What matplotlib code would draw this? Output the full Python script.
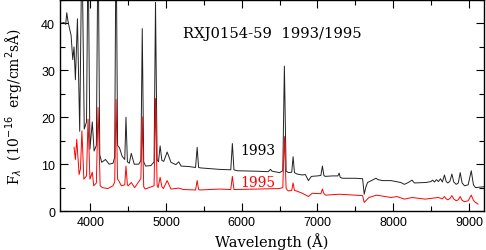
import matplotlib
matplotlib.use('Agg')
import matplotlib.pyplot as plt
from matplotlib.ticker import MultipleLocator


# 1993 spectrum (wavelength in A, flux in 1e-16 erg/cm2/s/A)
WAVE_93 = [3600, 3653, 3675, 3689, 3705, 3719, 3746, 3768, 3785, 3803, 3830, 3860,
           3889, 3920, 3950, 3970, 3995, 4026, 4050, 4080, 4102, 4125, 4150, 4200,
           4250, 4300, 4322, 4340, 4360, 4385, 4420, 4455, 4471, 4490, 4515, 4541,
           4580, 4640, 4668, 4686, 4705, 4730, 4800, 4842, 4861, 4882, 4900, 4922,
           4945, 4970, 5015, 5065, 5130, 5167, 5200, 5300, 5390, 5411, 5430, 5460,
           5700, 5855, 5876, 5897, 5940, 6200, 6350, 6380, 6400, 6500, 6542, 6563,
           6586, 6620, 6660, 6678, 6696, 6730, 6800, 6840, 6880, 6920, 7000, 7045,
           7065, 7085, 7100, 7200, 7270, 7286, 7300, 7330, 7500, 7596, 7617, 7640,
           7662, 7700, 7772, 7800, 7861, 7971, 8100, 8147, 8200, 8249, 8280, 8434,
           8500, 8520, 8545, 8570, 8598, 8625, 8650, 8677, 8700, 8722, 8750, 8775,
           8800, 8832, 8860, 8885, 8910, 8942, 8990, 9031, 9060, 9087, 9150, 9200]
FLUX_93 = [40.0, 40.2, 39.8, 42.3, 40.5, 39.4, 37.5, 32.3, 35.0, 28.0, 41.0, 17.0,
           58.0, 17.5, 19.0, 58.0, 13.2, 19.0, 12.8, 14.0, 60.0, 12.0, 10.4, 11.0,
           10.0, 10.2, 11.5, 62.0, 14.0, 13.5, 11.7, 11.0, 20.0, 10.5, 10.2, 12.3,
           10.0, 10.0, 10.8, 38.9, 10.5, 9.6, 9.7, 10.5, 44.5, 11.0, 10.5, 13.9,
           10.8, 10.6, 12.6, 10.4, 9.9, 10.5, 9.6, 9.5, 9.3, 13.6, 9.3, 9.2,
           8.9, 8.8, 14.4, 8.8, 8.6, 8.5, 8.4, 8.9, 8.5, 8.2, 8.6, 30.9,
           8.5, 8.2, 8.3, 11.6, 8.2, 7.9, 7.7, 7.8, 6.5, 7.4, 7.5, 7.6,
           9.6, 7.6, 7.4, 7.5, 7.5, 8.1, 7.2, 7.0, 7.0, 6.9, 3.6, 5.2,
           6.1, 6.4, 7.0, 6.7, 6.5, 6.5, 6.1, 5.7, 6.1, 6.6, 6.0, 6.1,
           6.3, 6.6, 6.2, 6.7, 6.3, 6.9, 6.2, 7.7, 6.3, 6.0, 6.4, 7.9,
           6.2, 5.7, 6.0, 8.2, 6.0, 5.4, 5.6, 8.6, 5.6, 5.0, 5.1, 5.2]

# 1995 spectrum
WAVE_95 = [3785, 3803, 3821, 3852, 3870, 3889, 3915, 3950, 3970, 3995, 4026, 4045,
           4080, 4102, 4130, 4160, 4230, 4300, 4322, 4340, 4360, 4375, 4410, 4455,
           4471, 4490, 4500, 4541, 4585, 4650, 4668, 4686, 4705, 4725, 4842, 4861,
           4882, 4895, 4922, 4945, 4965, 5015, 5065, 5167, 5230, 5390, 5411, 5430,
           5450, 5700, 5855, 5876, 5897, 5920, 6490, 6542, 6563, 6586, 6615, 6660,
           6678, 6696, 6720, 6800, 6880, 6930, 7045, 7065, 7085, 7110, 7286, 7596,
           7617, 7680, 7780, 7971, 8050, 8147, 8250, 8420, 8545, 8598, 8650, 8677,
           8700, 8722, 8750, 8775, 8800, 8832, 8860, 8885, 8910, 8942, 8990, 9031,
           9060, 9087, 9120]
FLUX_95 = [13.6, 11.0, 15.3, 7.8, 9.0, 17.1, 6.8, 7.5, 19.6, 6.8, 8.3, 5.4,
           6.0, 22.1, 5.4, 5.0, 4.8, 5.4, 6.2, 23.8, 6.8, 6.5, 5.4, 5.6,
           9.6, 5.6, 5.4, 6.1, 5.0, 6.5, 7.0, 20.1, 5.2, 4.7, 5.4, 24.0,
           5.5, 5.0, 7.2, 5.2, 4.8, 6.5, 4.7, 4.9, 4.6, 4.5, 6.5, 4.6,
           4.5, 4.7, 4.6, 7.4, 4.6, 4.6, 4.8, 5.0, 15.9, 4.8, 4.3, 4.4,
           6.0, 4.4, 4.3, 3.8, 3.1, 3.8, 3.7, 4.7, 3.7, 3.4, 3.6, 3.3,
           1.85, 2.9, 3.4, 2.9, 3.1, 2.55, 2.9, 2.55, 2.8, 2.9, 2.6, 3.1,
           2.6, 2.4, 2.7, 3.3, 2.6, 2.2, 2.4, 3.1, 2.3, 2.0, 2.2, 3.4,
           2.3, 1.85, 1.5]

TITLE = 'RXJ0154-59  1993/1995'
LABEL_93 = '1993'
LABEL_95 = '1995'

serif = 'DejaVu Serif'

fig = plt.figure(figsize=(4.86, 2.51), dpi=100)
ax = fig.add_axes([0.1235, 0.155, 0.8725, 0.841])

ax.plot(WAVE_93, FLUX_93, color='#222222', lw=0.7)
ax.plot(WAVE_95, FLUX_95, color='red', lw=0.7)

ax.set_xlim(3600, 9200)
ax.set_ylim(0, 45)
ax.xaxis.set_major_locator(MultipleLocator(1000))
ax.xaxis.set_minor_locator(MultipleLocator(500))
ax.yaxis.set_major_locator(MultipleLocator(10))
ax.yaxis.set_minor_locator(MultipleLocator(5))
ax.tick_params(which='both', direction='in', top=True, right=True, labelsize=9)
ax.tick_params(which='major', length=6, width=0.8)
ax.tick_params(which='minor', length=3.5, width=0.8)
for lab in ax.get_xticklabels() + ax.get_yticklabels():
    lab.set_family('Liberation Sans')
for sp in ax.spines.values():
    sp.set_linewidth(1.0)

ax.set_xlabel('Wavelength (Å)', family=serif, fontsize=10.5, labelpad=3)
ax.set_ylabel(r'F$_\lambda$  (10$^{-16}$  erg/cm$^2$sÅ)', family=serif, fontsize=10, labelpad=12)

ax.text(6410, 38, TITLE, family=serif, fontsize=10.6, ha='center', va='center')
ax.text(6216, 13, LABEL_93, family=serif, fontsize=10, ha='center', va='center')
ax.text(6216, 6.1, LABEL_95, family=serif, fontsize=10, ha='center', va='center', color='red')

plt.savefig('out.png', dpi=100)
